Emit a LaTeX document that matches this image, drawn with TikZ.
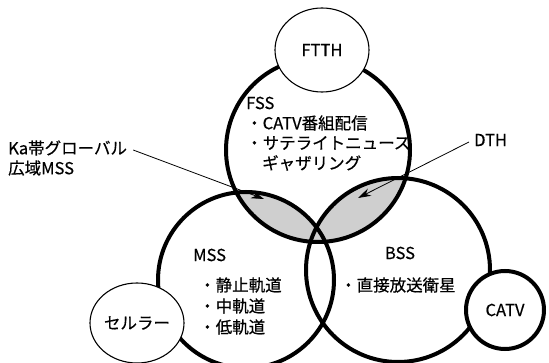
\documentclass[tikz,border=0pt]{standalone}
\usepackage{fontspec}
\setmainfont{Noto Sans CJK JP}[FakeBold=0.5]
\usetikzlibrary{arrows.meta,shapes.geometric}
\tikzset{
  bigring/.style={line width=4pt, draw=black},
  thinring/.style={line width=1.1pt, draw=black, fill=white},
  txt/.style={inner sep=0pt, font=\fontsize{16.5}{20}\selectfont},
  lbl/.style={inner sep=0pt, anchor=west, font=\fontsize{16.5}{20}\selectfont},
  pointer/.style={line width=0.8pt, -{Stealth[length=13pt,width=8pt]}},
}
\begin{document}
\begin{tikzpicture}[x=1pt,y=-1pt]
\useasboundingbox (0,0) rectangle (549,363);
% shaded overlaps
\begin{scope}
  \clip (318,150) circle (92);
  \fill[gray!38] (246,280) circle (88);
  \fill[gray!38] (398,270) circle (92);
\end{scope}
% big circles
\draw[bigring] (318,150) circle (92);
\draw[bigring] (246,280) circle (88);
\draw[bigring] (398,270) circle (92);
% small shapes
\node[thinring, ellipse, minimum width=94, minimum height=84, inner sep=0pt] (ftth) at (322,50) {};
\node[txt] at (ftth.center) {FTTH};
\node[thinring, ellipse, minimum width=94, minimum height=80, inner sep=0pt] (cell) at (137,323) {};
\node[txt] at (cell.center) {セルラー};
\node[circle, line width=4pt, draw=black, fill=white, minimum size=78, inner sep=0pt] (catv) at (505,310) {};
\node[txt] at (catv.center) {CATV};
% texts
\node[lbl] (fss) at (246,103) {FSS};
\node[lbl] (fss1) at (246,123) {・CATV番組配信};
\node[lbl] (fss2) at (246,143) {・サテライトニュース};
\node[lbl] (fss3) at (262,163) {ギャザリング};
\node[lbl] (mss) at (193,255) {MSS};
\node[lbl] (mss1) at (199,285) {・静止軌道};
\node[lbl] (mss2) at (199,306) {・中軌道};
\node[lbl] (mss3) at (199,327) {・低軌道};
\node[txt] (bss) at (400,253) {BSS};
\node[lbl] (bss1) at (340,285) {・直接放送衛星};
\node[lbl] (ka1) at (8,148) {Ka帯グローバル};
\node[lbl] (ka2) at (8,168) {広域MSS};
\node[lbl] (dth) at (474,140) {DTH};
% pointers
\coordinate (kaend) at (264,199);
\coordinate (dthend) at (358,198);
\draw[pointer] (ka1.east) ++(6,2) -- (kaend);
\draw[pointer] (dth.west) ++(-5,2) -- (dthend);
\end{tikzpicture}
\end{document}
